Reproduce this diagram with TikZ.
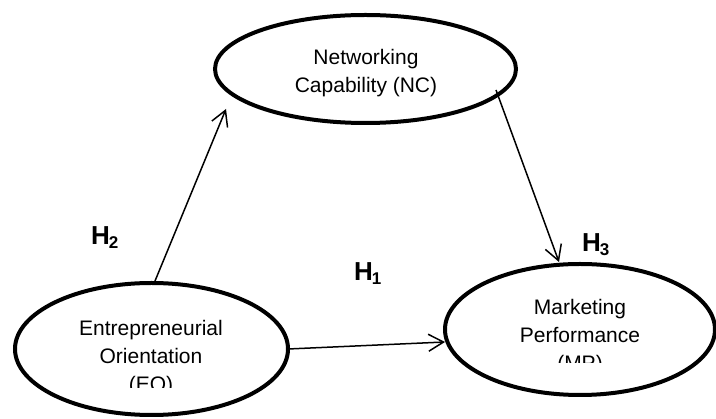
\documentclass[tikz,border=0pt]{standalone}
\usepackage{fontspec}
\setmainfont{Liberation Sans}
\usetikzlibrary{shapes.geometric,arrows.meta}
\tikzset{
  construct/.style={draw, ellipse, line width=4pt, inner sep=0pt},
  ctext/.style={align=center, font=\fontsize{21}{28}\selectfont, inner sep=0pt},
  link/.style={line width=1.5pt, -{Straight Barb[length=15pt,width=17pt,line width=1.5pt]}},
  hyp/.style={font=\bfseries\fontsize{26}{26}\selectfont, inner sep=0pt}
}
\newcommand{\hlab}[1]{H\kern-1pt\raisebox{-4pt}{\fontsize{17}{17}\selectfont #1}}
\begin{document}
\begin{tikzpicture}[x=1pt,y=-1pt]
\useasboundingbox (0,0) rectangle (716,419);
% ellipses
\node[construct, minimum width=301pt, minimum height=108pt] (NC) at (365.5,69) {};
\node[construct, minimum width=273pt, minimum height=132pt] (EO) at (151.5,349) {};
\node[construct, minimum width=270pt, minimum height=131pt] (MP) at (580,329.5) {};
% texts
\node[ctext] (NCt) at (366,73) {Networking\\Capability (NC)};
\begin{scope}
\clip (0,0) rectangle (716,388);
\node[ctext] (EOt) at (151,358) {Entrepreneurial\\Orientation\\(EO)};
\end{scope}
\begin{scope}
\clip (0,0) rectangle (716,363);
\node[ctext] (MPt) at (580,337) {Marketing\\Performance\\(MP)};
\end{scope}
% connector end points
\coordinate (eoTop) at (155,281);
\coordinate (ncIn) at (226,109);
\coordinate (ncOut) at (496,90);
\coordinate (mpTop) at (559,262);
\coordinate (eoRight) at (288,349);
\coordinate (mpLeft) at (445,342);
\draw[link] (eoTop) -- (ncIn);
\draw[link] (ncOut) -- (mpTop);
\draw[link] (eoRight) -- (mpLeft);
% hypothesis labels
\node[hyp, anchor=west] (H2) at (91,238) {\hlab{2}};
\node[hyp, anchor=west] (H1) at (354,274) {\hlab{1}};
\node[hyp, anchor=west] (H3) at (582,245) {\hlab{3}};
\end{tikzpicture}
\end{document}
